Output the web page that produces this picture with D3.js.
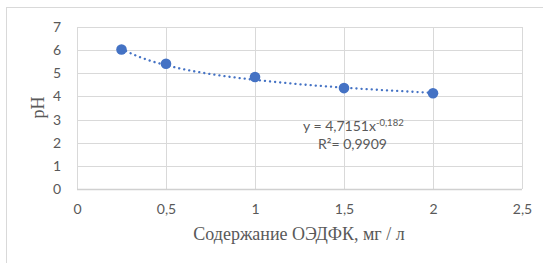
<!DOCTYPE html>
<html><head><meta charset="utf-8">
<script src="https://cdn.jsdelivr.net/npm/d3@7"></script>
<style>body{margin:0;background:#fff}svg{display:block}</style>
</head><body>
<svg id="c" width="543" height="263"></svg>
<script>
const xValues = [0.25, 0.5, 1, 1.5, 2];
const phValues = [6.03, 5.41, 4.84, 4.36, 4.14];
const xTicks = [0, 0.5, 1, 1.5, 2, 2.5];
const yTicks = [0, 1, 2, 3, 4, 5, 6, 7];
const trendA = 4.7151, trendB = -0.182;
const eqText = "y = 4,7151x";
const eqExp = "-0,182";
const r2Text = "R²= 0,9909";
const xTitle = "Содержание ОЭДФК, мг / л";
const yTitle = "pH";

const svg = d3.select("#c");
const fmt = v => String(v).replace(".", ",");
const x = d3.scaleLinear().domain([0, 2.5]).range([77, 522]);
const y = d3.scaleLinear().domain([0, 7]).range([189, 27]);
const tickFont = "Lato, 'Noto Sans', sans-serif";
const serif = "'Liberation Serif', 'Times New Roman', 'DejaVu Serif', serif";

svg.append("rect").attr("x", 6.5).attr("y", 7.5).attr("width", 560).attr("height", 280)
  .attr("fill", "#fff").attr("stroke", "#d9d9d9");

// grid
svg.append("g").selectAll("line").data(yTicks.filter(d => d > 0)).join("line")
  .attr("x1", x(0)).attr("x2", x(2.5)).attr("y1", d => Math.round(y(d)) + 0.5).attr("y2", d => Math.round(y(d)) + 0.5)
  .attr("stroke", "#d9d9d9").attr("stroke-width", 1);
svg.append("g").selectAll("line").data(xTicks).join("line")
  .attr("y1", y(0)).attr("y2", y(7)).attr("x1", d => Math.round(x(d)) + 0.5).attr("x2", d => Math.round(x(d)) + 0.5)
  .attr("stroke", "#d9d9d9").attr("stroke-width", 1);
svg.append("line").attr("x1", x(0)).attr("x2", x(2.5)).attr("y1", Math.round(y(0)) + 0.5).attr("y2", Math.round(y(0)) + 0.5)
  .attr("stroke", "#d0d0d0").attr("stroke-width", 1.3);

// axes labels via d3 axes
const xAxis = svg.append("g").attr("transform", `translate(0,${y(0)})`)
  .call(d3.axisBottom(x).tickValues(xTicks).tickFormat(fmt).tickSize(0).tickPadding(15));
const yAxis = svg.append("g").attr("transform", `translate(${x(0)},0)`)
  .call(d3.axisLeft(y).tickValues(yTicks).tickFormat(d3.format("d")).tickSize(0).tickPadding(16));
[xAxis, yAxis].forEach(a => {
  a.select(".domain").remove();
  a.selectAll("text").attr("fill", "#595959").attr("font-family", tickFont).attr("font-size", "14px");
  a.attr("font-family", tickFont).attr("font-size", 14);
});

// trendline
const tx = d3.range(0, 176).map(i => 0.25 + i * 0.01);
svg.append("path").datum(tx)
  .attr("d", d3.line().x(d => x(d)).y(d => y(trendA * Math.pow(d, trendB))))
  .attr("fill", "none").attr("stroke", "#4472c4").attr("stroke-width", 2.3)
  .attr("stroke-dasharray", "0.1 5").attr("stroke-linecap", "round");

// points
svg.append("g").selectAll("circle").data(xValues).join("circle")
  .attr("cx", d => x(d)).attr("cy", (d, i) => y(phValues[i])).attr("r", 5.3)
  .attr("fill", "#4472c4");

// equation
const eq = svg.append("text").attr("x", 303).attr("y", 131)
  .attr("font-family", tickFont).attr("font-size", 14).attr("fill", "#595959");
eq.append("tspan").text(eqText);
eq.append("tspan").attr("dy", -5).attr("font-size", 9.5).text(eqExp);
svg.append("text").attr("x", 318).attr("y", 149)
  .attr("font-family", tickFont).attr("font-size", 14).attr("fill", "#595959").text(r2Text);

// titles
svg.append("text").attr("x", 299).attr("y", 240).attr("text-anchor", "middle")
  .attr("font-family", serif).attr("font-size", 18).attr("fill", "#595959").text(xTitle);
svg.append("text").attr("transform", "translate(44,107.5) rotate(-90)").attr("text-anchor", "middle")
  .attr("font-family", serif).attr("font-size", 18).attr("fill", "#595959").text(yTitle);
</script>
</body></html>
